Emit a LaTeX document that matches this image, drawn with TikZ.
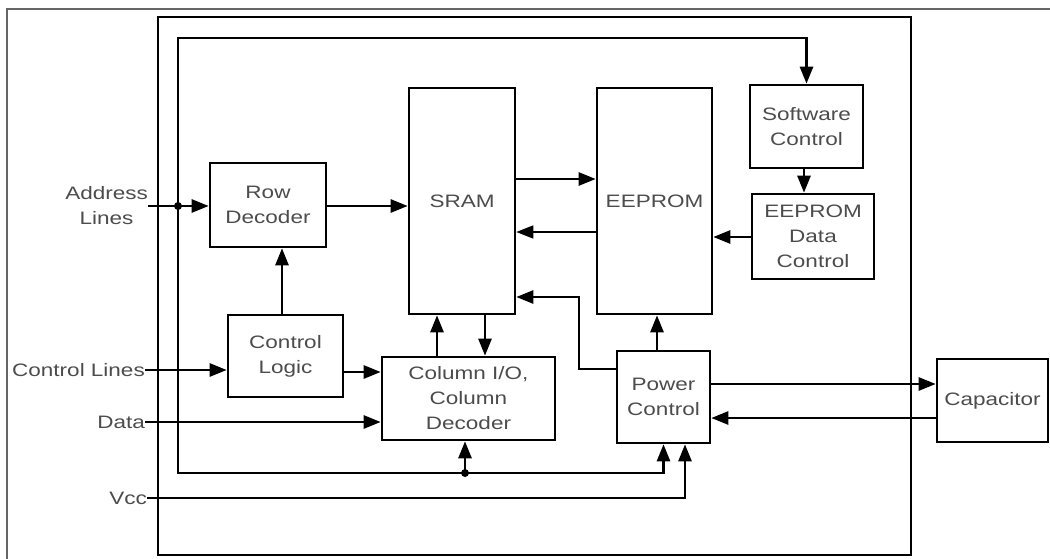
\documentclass[tikz,border=0pt]{standalone}
\usepackage{fontspec}
\setmainfont{Liberation Sans}[FakeStretch=1.25]
\usetikzlibrary{arrows.meta}

\begin{document}
\begin{tikzpicture}
  [x=1pt,y=-1pt,
   every node/.style={font=\fontsize{18}{25}\selectfont,text=black!70,align=center,inner sep=0pt},
   blk/.style={draw=black,line width=2.6pt},
   wire/.style={draw=black,line width=2.6pt},
   thin wire/.style={draw=black,line width=1.5pt},
   arr/.style={-{Triangle[length=17pt,width=13pt]}}]
  \fill[white] (0,0) rectangle (1050,559);
  \useasboundingbox (0,0) rectangle (1050,559);

  % frame and chip outline
  \draw[black!60,line width=1.8pt] (1050,9) -- (7,9) -- (7,559);
  \draw[wire] (158,17) rectangle (911,555);

  % blocks
  \node[blk,minimum width=116pt,minimum height=84pt] (rowdec) at (268,205) {Row\\Decoder};
  \node[blk,minimum width=115pt,minimum height=82pt] (ctrl) at (285.5,356) {Control\\Logic};
  \node[blk,minimum width=173pt,minimum height=83pt] (coldec) at (468.5,398.5) {Column I/O,\\Column\\Decoder};
  \node[blk,minimum width=106pt,minimum height=226pt] (sram) at (462,201) {SRAM};
  \node[blk,minimum width=115pt,minimum height=226pt] (eeprom) at (654.5,201) {EEPROM};
  \node[blk,minimum width=113pt,minimum height=83pt] (sw) at (806.5,126.5) {Software\\Control};
  \node[blk,minimum width=122pt,minimum height=85pt] (edc) at (813,236.5) {EEPROM\\Data\\Control};
  \node[blk,minimum width=93pt,minimum height=92pt] (pwr) at (663.5,397) {Power\\Control};
  \node[blk,minimum width=111pt,minimum height=83pt] (cap) at (992.5,400.5) {Capacitor};

  % pin labels
  \node[anchor=east] (addr) at (148,206) {Address\\Lines};
  \node[anchor=east] (ctlin) at (145,370) {Control Lines};
  \node[anchor=east] (data) at (145,422) {Data};
  \node[anchor=east] (vcc) at (147,498) {Vcc};

  % junctions
  \coordinate (tap) at (178,206);
  \coordinate (busj) at (465,473);

  % inputs
  \draw[wire,arr] (addr.east) -- (addr.east -| rowdec.west);
  \draw[wire,arr] (ctlin.east) -- (ctlin.east -| ctrl.west);
  \draw[wire,arr] (data.east) -- (data.east -| coldec.west);
  \draw[wire,arr] (vcc.east) -| ([xshift=21.5pt]pwr.south);

  % address bus loop
  \draw[wire,arr] (tap) -- (178,38) -| (sw.north);
  \draw[wire,arr] (tap) -- (178,473) -| (pwr.south);
  \draw[wire,arr] (busj) -- (busj |- coldec.south);
  \foreach \dot in {tap,busj}
    \fill (\dot) circle (4pt);

  % internal paths
  \draw[wire,arr] (ctrl.north -| 282,0) -- (rowdec.south -| 282,0);
  \draw[wire,arr] (ctrl.east |- 0,372) -- (coldec.west |- 0,372);
  \draw[wire,arr] (rowdec.east |- 0,206) -- (sram.west |- 0,206);
  \draw[wire,arr] (coldec.north -| 437,0) -- (sram.south -| 437,0);
  \draw[wire,arr] (sram.south -| 485,0) -- (coldec.north -| 485,0);
  \draw[wire,arr] (sram.east |- 0,179) -- (eeprom.west |- 0,179);
  \draw[thin wire,arr] (eeprom.west |- 0,232) -- (sram.east |- 0,232);
  \draw[wire,arr] (sw.south -| 804,0) -- (edc.north -| 804,0);
  \draw[wire,arr] (edc.west |- 0,237) -- (eeprom.east |- 0,237);
  \draw[wire,arr] (pwr.west |- 0,369) -| (579,297) -- (sram.east |- 0,297);
  \draw[wire,arr] (pwr.north -| 657,0) -- (eeprom.south -| 657,0);
  \draw[wire,arr] (pwr.east |- 0,384) -- (cap.west |- 0,384);
  \draw[wire,arr] (cap.west |- 0,418) -- (pwr.east |- 0,418);
\end{tikzpicture}
\end{document}
